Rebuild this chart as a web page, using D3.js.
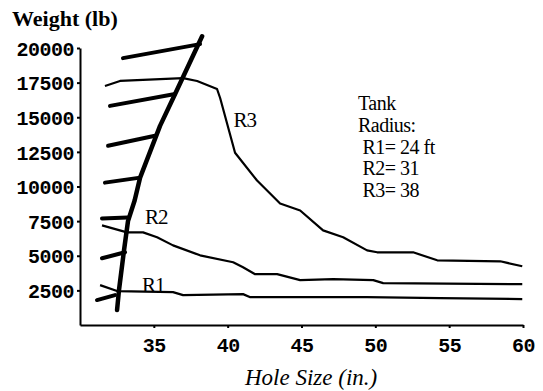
<!DOCTYPE html>
<html>
<head>
<meta charset="utf-8">
<script src="https://cdn.jsdelivr.net/npm/d3@7"></script>
<style>
    body { margin: 0; background: #fff; }
    svg { display: block; }
</style>
</head>
<body>
<div id="container"></div>
<script>
const WIDTH = 543;
const HEIGHT = 391;
const MARGIN = { top: 48, right: 20, bottom: 66, left: 80 };

// tick labels
const xTicks = [35, 40, 45, 50, 55, 60];
const yTicks = [2500, 5000, 7500, 10000, 12500, 15000, 17500, 20000];

// curves [hole size, weight]
const r1Points = [[31.36, 2880], [32.51, 2450], [36.3, 2370], [36.98, 2160], [41.04, 2230], [41.53, 2010],
    [49.44, 2010], [54.39, 1940], [59.95, 1870]];
const r2Points = [[31.49, 7190], [33.18, 6690], [34.27, 6690], [35.22, 6330], [36.3, 5750], [38.13, 5030],
    [40.37, 4530], [41.04, 4170], [41.86, 3670], [43.35, 3670], [44.91, 3240], [47.14, 3310],
    [49.86, 3240], [50.53, 3020], [59.95, 2950]];
const r3Points = [[31.69, 17260], [32.71, 17620], [36.98, 17830], [37.93, 17620], [39.28, 17040],
    [39.49, 16390], [40.5, 12440], [41.99, 10430], [43.55, 8770], [44.91, 8270], [46.46, 6830],
    [47.82, 6330], [49.44, 5390], [50.12, 5250], [52.56, 5250], [54.19, 4670], [58.46, 4600],
    [59.95, 4240]];

// 粗的边界线
const limitPoints = [[32.51, 1080], [32.64, 2520], [32.98, 5390], [33.25, 7500], [33.7, 8990],
    [34.07, 10640], [35.42, 14380], [36.44, 16680], [38.27, 20850]];

// 边界线上的短斜线 [x0, y0, x1, y1]
const hatches = [
    [32.91, 19270, 38.13, 20280],
    [32.03, 15820, 36.44, 16680],
    [31.9, 12940, 35.08, 13660],
    [31.69, 10280, 34.07, 10640],
    [31.49, 7690, 33.22, 7770],
    [31.49, 4820, 33.05, 5250],
    [31.15, 1800, 32.37, 2160]
];

// curve labels [text, hole size, weight]
const curveLabels = [["R1", 34.2, 2380], ["R2", 34.4, 7290], ["R3", 40.4, 14270]];

const legendLines = ["Tank", "Radius:", " R1= 24 ft", " R2= 31", " R3= 38"];

let svg, x, y;

main();

function main() {
    initiation();
    drawAxes();
    drawCurves();
    drawTexts();
}

// 初始化
function initiation() {
    svg = d3.select("#container").append("svg")
        .attr("width", WIDTH)
        .attr("height", HEIGHT);
    x = d3.scaleLinear().domain([30, 60]).range([MARGIN.left, WIDTH - MARGIN.right]);
    y = d3.scaleLinear().domain([0, 20000]).range([HEIGHT - MARGIN.bottom, MARGIN.top]);
}

// 坐标轴
function drawAxes() {
    const gx = svg.append("g")
        .attr("transform", `translate(0,${HEIGHT - MARGIN.bottom})`)
        .call(d3.axisBottom(x).tickValues(xTicks).tickSize(3).tickSizeOuter(0));
    gx.selectAll("text")
        .attr("dy", "1.05em");
    const gy = svg.append("g")
        .attr("transform", `translate(${MARGIN.left},0)`)
        .call(d3.axisLeft(y).tickValues(yTicks).tickSize(3).tickSizeOuter(0).tickFormat(d3.format("d")));
    gy.selectAll("text").attr("dy", "0.36em").attr("x", -6);
    svg.selectAll(".domain").attr("stroke", "#000").attr("stroke-width", 2);
    svg.selectAll(".tick line").attr("stroke", "#000").attr("stroke-width", 2);
    svg.selectAll(".tick text")
        .attr("fill", "#000")
        .style("font-family", "Liberation Mono, monospace")
        .style("font-weight", "bold")
        .style("font-size", "20px")
        .style("letter-spacing", "-0.5px");
}

// 曲线
function drawCurves() {
    const line = d3.line().x(d => x(d[0])).y(d => y(d[1])).curve(d3.curveLinear);
    [r1Points, r2Points, r3Points].forEach(pts => {
        svg.append("path")
            .attr("d", line(pts))
            .attr("fill", "none")
            .attr("stroke", "#000")
            .attr("stroke-width", 2.2)
            .attr("stroke-linejoin", "round");
    });
    svg.append("path")
        .attr("d", line(limitPoints))
        .attr("fill", "none")
        .attr("stroke", "#000")
        .attr("stroke-width", 4.5)
        .attr("stroke-linecap", "round")
        .attr("stroke-linejoin", "round");
    svg.selectAll("line.hatch")
        .data(hatches)
        .enter()
        .append("line")
        .attr("class", "hatch")
        .attr("x1", d => x(d[0]))
        .attr("y1", d => y(d[1]))
        .attr("x2", d => x(d[2]))
        .attr("y2", d => y(d[3]))
        .attr("stroke", "#000")
        .attr("stroke-width", 4)
        .attr("stroke-linecap", "round");
}

// 文字
function drawTexts() {
    svg.append("text")
        .text("Weight (lb)")
        .attr("x", 12)
        .attr("y", 26)
        .style("font-family", "Liberation Serif, serif")
        .style("font-weight", "bold")
        .style("font-size", "22px");
    svg.append("text")
        .text("Hole Size (in.)")
        .attr("x", 245)
        .attr("y", 385)
        .style("font-family", "Liberation Serif, serif")
        .style("font-style", "italic")
        .style("font-size", "23px");
    svg.selectAll("text.curve")
        .data(curveLabels)
        .enter()
        .append("text")
        .attr("class", "curve")
        .text(d => d[0])
        .attr("x", d => x(d[1]))
        .attr("y", d => y(d[2]))
        .style("font-family", "Liberation Serif, serif")
        .style("font-size", "21px")
        .style("letter-spacing", "-1px");
    svg.selectAll("text.legend")
        .data(legendLines)
        .enter()
        .append("text")
        .attr("class", "legend")
        .text(d => d)
        .attr("x", 358)
        .attr("y", (d, i) => 110 + i * 21.8)
        .attr("xml:space", "preserve")
        .style("white-space", "pre")
        .style("font-family", "Liberation Serif, serif")
        .style("font-size", "20px")
        .style("letter-spacing", "-0.5px");
}
</script>
</body>
</html>
